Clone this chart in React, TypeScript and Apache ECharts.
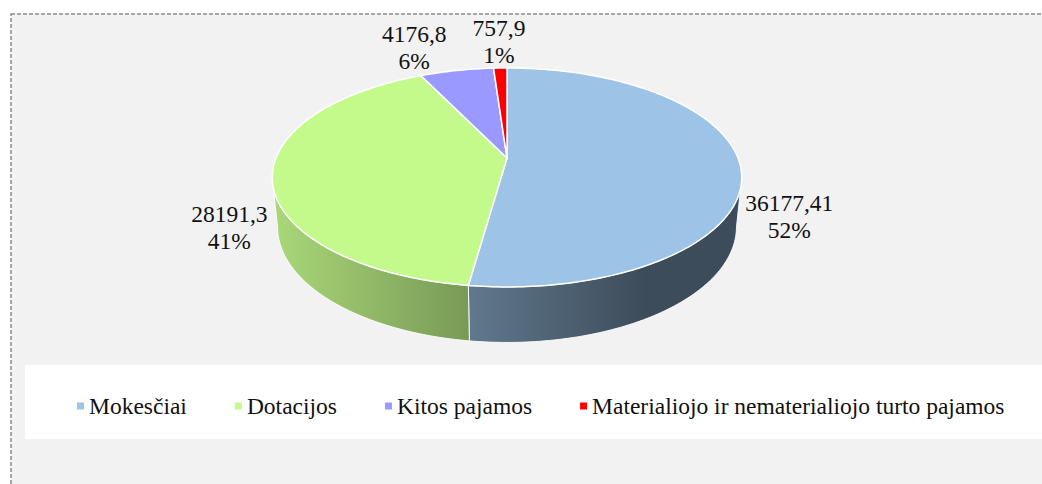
import React, { useEffect, useRef } from "react";
import * as echarts from "echarts";

// ---- data ----
const categories = [
  "Mokesčiai",
  "Dotacijos",
  "Kitos pajamos",
  "Materialiojo ir nematerialiojo turto pajamos",
];
const values = [36177.41, 28191.3, 4176.8, 757.9];
const topColors = ["#9dc3e6", "#c4fa8c", "#9999ff", "#ff0000"];

// ---- geometry / style ----
const FONT = "Liberation Serif";
const FS = 23.5;
const LH = 27;
const CX = 507;
const CY = 158;
const R = 231;
const SIN_E = 0.459;
const COS_E = Math.sqrt(1 - SIN_E * SIN_E);
const D = 5 * R;
const H = 56;
const DEG = Math.PI / 180;

function project(thetaDeg: number, Y: number, rScale = 1): [number, number] {
  const t = thetaDeg * DEG;
  const X = R * rScale * Math.sin(t);
  const Z = -R * rScale * Math.cos(t);
  const yc = Y * COS_E - Z * SIN_E;
  const zc = Y * SIN_E + Z * COS_E;
  const s = D / (D - zc);
  return [CX + X * s, CY - yc * s];
}

function arc(a0: number, a1: number, Y: number) {
  const n = Math.max(2, Math.ceil(Math.abs(a1 - a0)) + 1);
  const pts: [number, number][] = [];
  for (let k = 0; k < n; k++) pts.push(project(a0 + ((a1 - a0) * k) / (n - 1), Y));
  return pts;
}

function shade(hex: string, k: number) {
  const n = parseInt(hex.slice(1), 16);
  const r = Math.round(((n >> 16) & 255) * k);
  const g = Math.round(((n >> 8) & 255) * k);
  const b = Math.round((n & 255) * k);
  return `rgb(${r},${g},${b})`;
}

const total = values.reduce((a, b) => a + b, 0);
const angles = (() => {
  let cum = 0;
  return values.map((v) => {
    const a0 = (cum / total) * 360;
    cum += v;
    return [a0, (cum / total) * 360];
  });
})();

const SIL = Math.acos((-R * COS_E) / D) / DEG; // right silhouette
const SIL_L = 360 - SIL;

const labelTexts = values.map(
  (v) => `${String(v).replace(".", ",")}\n${Math.round((v / total) * 100)}%`
);

const labelPos = (() => {
  const ls = values.map((v, i) => {
    const [a0, a1] = angles[i];
    const mid = (a0 + a1) / 2;
    const s = Math.sin(mid * DEG);
    const c = Math.cos(mid * DEG);
    const anchor = project(mid, -H * s * s);
    const halfW = String(v).length * FS * 0.235;
    const halfH = LH;
    return {
      x: anchor[0] + s * (halfW + 10),
      y: anchor[1] - c * halfH,
      halfW,
      halfH,
    };
  });
  const GAP = 24;
  for (let i = 0; i < ls.length; i++) {
    for (let j = i + 1; j < ls.length; j++) {
      const A = ls[i], B = ls[j];
      if (Math.abs(A.y - B.y) >= A.halfH + B.halfH) continue;
      const [L, Rr] = A.x < B.x ? [A, B] : [B, A];
      const need = L.x + L.halfW + GAP - (Rr.x - Rr.halfW);
      if (need > 0) L.x -= need;
    }
  }
  return ls;
})();

function makeRender(i: number) {
  return () => {
    const [a0, a1] = angles[i];
    const children: any[] = [];
    const lo = Math.max(a0, SIL);
    const hi = Math.min(a1, SIL_L);
    if (hi > lo) {
      const pts = [...arc(lo, hi, 0), ...arc(hi, lo, -H)];
      children.push({
        type: "polygon",
        shape: { points: pts },
        style: {
          fill: new echarts.graphic.LinearGradient(
            CX - R,
            0,
            CX + R * 0.6,
            0,
            [
              { offset: 0, color: shade(topColors[i], 0.86) },
              { offset: 1, color: shade(topColors[i], 0.39) },
            ],
            true
          ),
          stroke: "rgba(255,255,255,0.9)",
          lineWidth: 1,
        },
      });
    }
    children.push({
      type: "polygon",
      shape: { points: [[CX, CY], ...arc(a0, a1, 0)] },
      style: { fill: topColors[i], stroke: "#ffffff", lineWidth: 1.5 },
    });
    const lp = labelPos[i];
    children.push({
      type: "text",
      x: lp.x,
      y: lp.y,
      style: {
        text: labelTexts[i],
        fill: "#111",
        fontFamily: FONT,
        fontSize: FS,
        lineHeight: LH,
        align: "center",
        verticalAlign: "middle",
      },
    });
    return { type: "group", children };
  };
}

export default function App() {
  const ref = useRef<HTMLDivElement>(null);
  useEffect(() => {
    if (!ref.current) return;
    const chart = echarts.init(ref.current, null, { renderer: "svg" });
    chart.setOption({
      animation: false,
      backgroundColor: "#ffffff",
      graphic: [
        {
          type: "rect",
          z: -10,
          shape: { x: 11, y: 14, width: 1100, height: 500 },
          style: { fill: "#f2f2f2", stroke: "#8c8c8c", lineWidth: 1.5, lineDash: [4, 2] },
        },
        {
          type: "rect",
          z: -9,
          shape: { x: 25, y: 365, width: 1040, height: 74 },
          style: { fill: "#ffffff" },
        },
      ],
      legend: {
        data: categories,
        left: 72,
        top: 389,
        icon: "rect",
        itemWidth: 7,
        itemHeight: 7,
        itemGap: 48,
        textStyle: { fontFamily: FONT, fontSize: FS, color: "#111" },
        selectedMode: false,
      },
      series: categories.map((name, i) => ({
        type: "custom",
        name,
        coordinateSystem: "none",
        silent: true,
        itemStyle: { color: topColors[i] },
        data: [values[i]],
        renderItem: makeRender(i),
      })),
    });
    return () => chart.dispose();
  }, []);
  return (
    <div
      ref={ref}
      style={{ position: "fixed", left: 0, top: 0, width: 1042, height: 484 }}
    />
  );
}
